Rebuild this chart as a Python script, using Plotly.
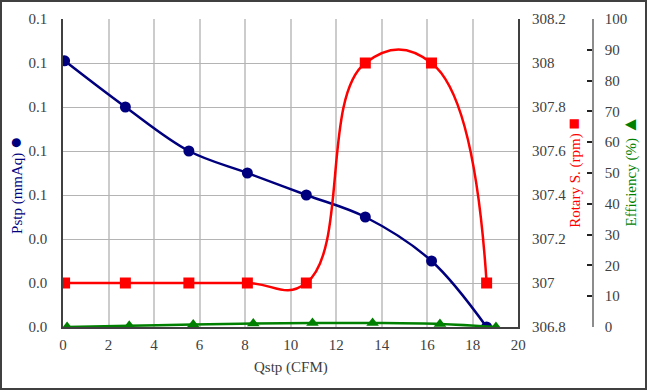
import plotly.graph_objects as go

# ---- data ----
q_p = [0.07, 2.74, 5.53, 8.10, 10.69, 13.28, 16.19, 18.61]      # Qstp for Pstp / rpm
pstp = [0.121, 0.100, 0.080, 0.070, 0.060, 0.050, 0.030, 0.000]  # mmAq
rpm = [307, 307, 307, 307, 307, 308, 308, 307]                    # rpm
q_e = [0.18, 2.91, 5.72, 8.36, 10.96, 13.60, 16.56, 19.02]       # Qstp for efficiency
eff = [0.0, 0.4, 0.8, 1.1, 1.3, 1.3, 1.0, 0.0]                    # %

x_ticks = [0, 2, 4, 6, 8, 10, 12, 14, 16, 18, 20]
rpm_ticks = [306.8, 307.0, 307.2, 307.4, 307.6, 307.8, 308.0, 308.2]
rpm_labels = ["306.8", "307", "307.2", "307.4", "307.6", "307.8", "308", "308.2"]

FONT = "Liberation Serif"
NAVY = "#00007f"
RED = "#ff0000"
GREEN = "#008000"
TXT = "#404040"
TICKFONT = dict(family=FONT, size=15, color=TXT)

fig = go.Figure()
fig.add_trace(go.Scatter(x=q_p, y=pstp, mode="lines+markers", yaxis="y",
                         line=dict(color=NAVY, width=2.5, shape="spline", smoothing=1),
                         marker=dict(symbol="circle", size=11, color=NAVY)))
fig.add_trace(go.Scatter(x=q_p, y=rpm, mode="lines+markers", yaxis="y2",
                         line=dict(color=RED, width=2.5, shape="spline", smoothing=1.3),
                         marker=dict(symbol="square", size=11, color=RED)))
fig.add_trace(go.Scatter(x=q_e, y=eff, mode="lines+markers", yaxis="y3",
                         line=dict(color=GREEN, width=2.5, shape="spline", smoothing=1),
                         marker=dict(symbol="triangle-up", size=11, color=GREEN)))

fig.update_layout(
    width=647, height=390,
    margin=dict(l=63, r=54, t=19, b=63),
    paper_bgcolor="white", plot_bgcolor="white",
    showlegend=False,
    font=dict(family=FONT, size=15, color=TXT),
    xaxis=dict(domain=[0, 0.859], range=[0, 20], tickvals=x_ticks, tickfont=TICKFONT,
               showgrid=True, gridcolor="#cccccc", gridwidth=1.5,
               showline=True, linecolor="#404040", linewidth=1.5,
               ticks="", zeroline=False, ticklabelstandoff=3),
    yaxis=dict(range=[0, 0.14], dtick=0.02, tickformat=".1f", tickfont=TICKFONT,
               showgrid=True, gridcolor="#b4b4b4", gridwidth=1,
               showline=True, linecolor="#404040", linewidth=1.5,
               ticks="", zeroline=False, ticklabelstandoff=11),
    yaxis2=dict(overlaying="y", side="right", anchor="x", tickfont=TICKFONT,
                range=[306.8, 308.2], tickvals=rpm_ticks, ticktext=rpm_labels,
                showgrid=False, showline=True, linecolor="#404040", linewidth=1.5,
                ticks="", zeroline=False, ticklabelstandoff=9),
    yaxis3=dict(overlaying="y", side="right", anchor="free", position=1.0,
                range=[0, 100], dtick=10, tickfont=TICKFONT,
                showgrid=False, showline=True, linecolor="#8c8c8c", linewidth=1.5,
                ticks="inside", ticklen=5, tickcolor="#222222", tickwidth=1.5,
                zeroline=False, ticklabelstandoff=8),
)

fig.add_annotation(text="Qstp (CFM)", xref="paper", yref="paper",
                   x=0.4295, y=-0.133, showarrow=False, xanchor="center", yanchor="middle",
                   font=dict(family=FONT, size=15, color=TXT))
fig.add_annotation(text="Pstp (mmAq) <span style='font-size:21px'>●</span>",
                   xref="paper", yref="paper", x=-0.092, y=0.462, textangle=-90,
                   showarrow=False, xanchor="center", yanchor="middle",
                   font=dict(family=FONT, size=15, color=NAVY))
fig.add_annotation(text="Rotary S. (rpm) <span style='font-size:19px'>■</span>",
                   xref="paper", yref="paper", x=0.962, y=0.5, textangle=-90,
                   showarrow=False, xanchor="center", yanchor="middle",
                   font=dict(family=FONT, size=15, color=RED))
fig.add_annotation(text="Efficiency (%) <span style='font-size:19px'>▲</span>",
                   xref="paper", yref="paper", x=1.068, y=0.505, textangle=-90,
                   showarrow=False, xanchor="center", yanchor="middle",
                   font=dict(family=FONT, size=15, color=GREEN))

# outer frame of the picture
fig.add_shape(type="rect", xref="paper", yref="paper",
              x0=(1 - 63) / 530, x1=(646 - 63) / 530,
              y0=(327 - 389) / 308, y1=(327 - 1) / 308,
              line=dict(color="#404040", width=2), fillcolor="rgba(0,0,0,0)")

fig.write_html("out.html", config={"displayModeBar": False},
               post_script="document.body.style.margin='0';document.body.style.overflow='hidden';")
